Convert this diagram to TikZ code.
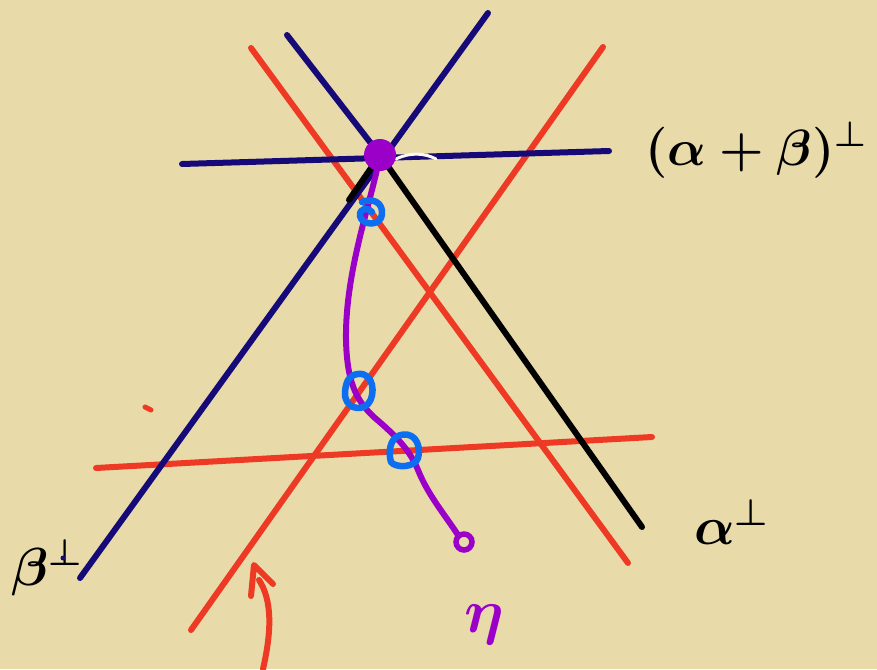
\documentclass[tikz,border=0pt]{standalone}
\usetikzlibrary{arrows.meta}
\definecolor{paper}{RGB}{233,218,170}
\definecolor{navy}{RGB}{22,10,120}
\definecolor{hred}{RGB}{238,58,36}
\definecolor{hpurple}{RGB}{155,0,200}
\definecolor{hblue}{RGB}{12,110,240}
\newcommand{\bigtxt}[2][3.4]{\scalebox{#1}{\LARGE\boldmath #2}}
\begin{document}
\begin{tikzpicture}[x=1pt,y=-1pt,
  pen/.style={line width=6pt,line cap=round,line join=round},
  navyline/.style={pen,navy},
  redline/.style={pen,hred},
  blackline/.style={pen,black},
  purpleline/.style={pen,hpurple},
  blueloop/.style={line width=6.5pt,hblue,line cap=round,line join=round},
  lbl/.style={inner sep=0pt}]
\fill[paper] (0,0) rectangle (877,669);
\useasboundingbox (0,0) rectangle (877,669);
% coordinates
\coordinate (P) at (380,155);
\coordinate (ntl) at (287,35);
\coordinate (ntr) at (488,13);
\coordinate (nbl) at (80,578);
\coordinate (hl) at (182,164);
\coordinate (hr) at (609,151);
\coordinate (bk) at (642,527);
\coordinate (r1a) at (251,48);
\coordinate (r1b) at (628,563);
\coordinate (r2a) at (603,47);
\coordinate (r2b) at (191,630);
\coordinate (r3a) at (96,468);
\coordinate (r3b) at (652,437);
% red lines
\draw[redline] (r1a) -- (r1b);
\draw[redline] (r2a) -- (r2b);
\draw[redline] (r3a) -- (r3b);
% navy lines
\draw[navyline] (ntr) -- (nbl);
\draw[navyline] (hl) -- (hr);
\draw[navyline] (ntl) -- (P);
% black line
\draw[blackline] (P) -- (bk);
\draw[blackline] (P) -- (349,200);
% faint white smudge
\draw[line width=3pt,white!80!paper,line cap=round] (396,159) .. controls (410,152) and (425,153) .. (436,159);
% red arrow
\coordinate (atip) at (254,565);
\draw[redline] (263,669) .. controls (272,630) and (272,600) .. (259,580);
\draw[redline] (251,596) -- (atip) -- (273,584);
% red speck
\draw[line width=5pt,hred,line cap=round] (145,407) -- (151,410);
% purple path
\draw[purpleline] (P) .. controls (372,200) and (345,270) .. (346,340)
  .. controls (347,380) and (355,400) .. (375,418)
  .. controls (395,435) and (410,450) .. (418,470)
  .. controls (428,495) and (445,515) .. (458,535);
\draw[line width=5.5pt,hpurple] (464,542) circle (8);
\fill[hpurple] (P) circle (16);
% blue loops
\draw[blueloop] (362,202) .. controls (378,196) and (385,208) .. (381,218)
  .. controls (377,226) and (362,225) .. (360,216) .. controls (359,208) and (368,207) .. (372,212);
\draw[blueloop] (358,374) .. controls (374,372) and (376,395) .. (368,404)
  .. controls (360,412) and (344,408) .. (345,392) .. controls (346,380) and (350,375) .. (358,374);
\draw[blueloop] (398,436) .. controls (412,430) and (422,442) .. (418,458)
  .. controls (415,468) and (395,468) .. (391,462) .. controls (388,452) and (390,440) .. (398,436);
% labels
\node[lbl,anchor=west] (lab) at (645,150) {\bigtxt[2.95]{$(\alpha+\beta)^{\perp}$}};
\node[lbl] (lal) at (732,522) {\bigtxt[3.1]{$\alpha^{\perp}$}};
\node[lbl] (lbe) at (47,568) {\bigtxt[3.1]{$\beta^{\perp}$}};
\fill[navy] (63,558) circle (2.5);
\node[lbl,text=hpurple] (leta) at (484,625) {\bigtxt[3.6]{$\eta$}};
\end{tikzpicture}
\end{document}
